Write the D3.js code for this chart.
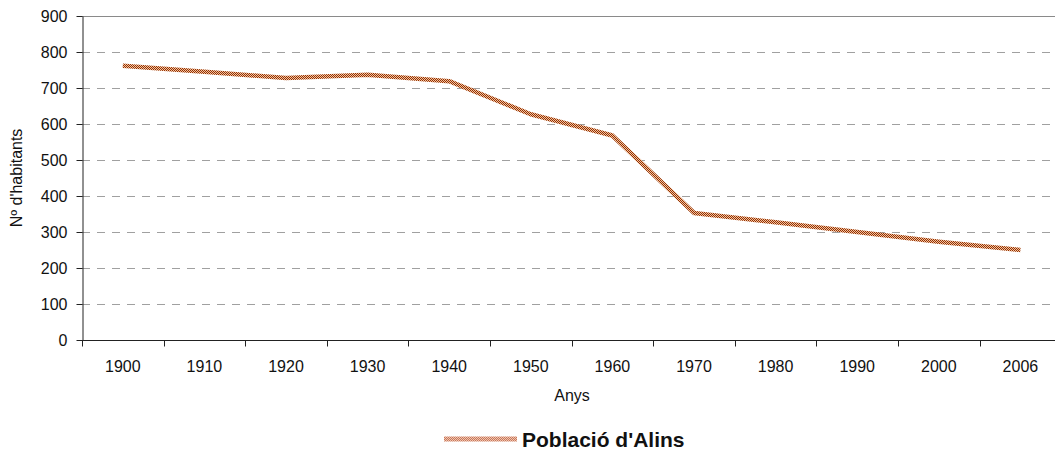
<!doctype html>
<html lang="ca">
<head>
<meta charset="UTF-8" />
<title>Població d'Alins</title>
<script src="https://d3js.org/d3.v7.min.js"></script>
<style>
  html,body{margin:0;padding:0;background:#fff;}
  svg{display:block;font-family:"Liberation Sans",Arial,Helvetica,sans-serif;}
</style>
</head>
<body>
<div id="chart"></div>
<script>
  /* ── data ── */
  const years = ['1900','1910','1920','1930','1940','1950','1960','1970','1980','1990','2000','2006'];
  const population = [762, 745, 728, 737, 719, 627, 568, 353, 327, 300, 273, 250];
  const yTicks = [0,100,200,300,400,500,600,700,800,900];

  const W = 1055, H = 453;
  const plotLeft = 82, plotTop = 16, plotBottom = 340;
  const bandW = 81.6;

  const svg = d3.select('#chart').append('svg')
      .attr('width', W).attr('height', H);

  /* checkered stroke like the original */
  const defs = svg.append('defs');
  function checker(id, dark, light){
    const p = defs.append('pattern').attr('id', id)
        .attr('patternUnits','userSpaceOnUse').attr('width',2).attr('height',2);
    p.append('rect').attr('width',2).attr('height',2).attr('fill',light);
    p.append('rect').attr('width',1).attr('height',1).attr('fill',dark);
    p.append('rect').attr('x',1).attr('y',1).attr('width',1).attr('height',1).attr('fill',dark);
  }
  checker('lineHatch', '#963000', '#f0c4a2');
  checker('legendHatch', '#c9785c', '#efc4ae');

  const x = d3.scaleBand().domain(years).range([plotLeft, plotLeft + bandW*years.length]);
  const y = d3.scaleLinear().domain([0,900]).range([plotBottom, plotTop]);

  /* gridlines */
  svg.append('g').selectAll('line')
     .data(yTicks.filter(d => d > 0 && d < 900))
     .join('line')
     .attr('x1', plotLeft).attr('x2', W)
     .attr('y1', d => Math.round(y(d)) + 0.5).attr('y2', d => Math.round(y(d)) + 0.5)
     .attr('stroke', '#a0a0a0').attr('stroke-width', 1)
     .attr('stroke-dasharray', '8,7');

  /* top border */
  svg.append('line')
     .attr('x1', plotLeft).attr('x2', W)
     .attr('y1', Math.round(y(900)) + 0.5).attr('y2', Math.round(y(900)) + 0.5)
     .attr('stroke', '#8a8a8a');

  /* y axis */
  const gy = svg.append('g')
      .attr('transform', `translate(${plotLeft + 0.5},0)`)
      .call(d3.axisLeft(y).tickValues(yTicks).tickSize(6).tickPadding(9).tickSizeOuter(0));
  gy.select('.domain').attr('stroke', '#222');
  gy.selectAll('.tick line').attr('stroke', '#222');
  gy.selectAll('text').attr('font-size', 16).attr('fill', '#111')
    .attr('font-family', '"Liberation Sans",Arial,sans-serif');

  /* x axis: ticks on category boundaries */
  const gx = svg.append('g').attr('transform', `translate(0,${plotBottom + 0.5})`);
  gx.append('line').attr('x1', plotLeft).attr('x2', W).attr('stroke', '#222');
  const bounds = d3.range(years.length + 1).map(i => plotLeft + i*x.step());
  gx.selectAll('line.tk').data(bounds).join('line').attr('class','tk')
    .attr('x1', d => Math.round(d) + 0.5).attr('x2', d => Math.round(d) + 0.5)
    .attr('y1', 0).attr('y2', 6).attr('stroke', '#222');
  gx.selectAll('text').data(years).join('text')
    .attr('x', d => x(d) + x.bandwidth()/2).attr('y', 31)
    .attr('text-anchor', 'middle').attr('font-size', 16).attr('fill', '#111')
    .text(d => d);

  /* axis titles */
  svg.append('text')
     .attr('x', 572).attr('y', 401).attr('text-anchor', 'middle')
     .attr('font-size', 16).attr('fill', '#111').text('Anys');
  svg.append('text')
     .attr('transform', `translate(22,${(plotTop + plotBottom)/2}) rotate(-90)`)
     .attr('text-anchor', 'middle').attr('font-size', 16).attr('fill', '#111')
     .text("Nº d'habitants");

  /* data line */
  const line = d3.line()
      .x((d,i) => x(years[i]) + x.bandwidth()/2)
      .y(d => y(d));
  svg.append('path').datum(population)
     .attr('d', line)
     .attr('fill', 'none')
     .attr('stroke', 'url(#lineHatch)')
     .attr('stroke-width', 4.5)
     .attr('stroke-linejoin', 'round');

  /* legend */
  const lg = svg.append('g').attr('transform', 'translate(444,439)');
  lg.append('line').attr('x1', 0).attr('x2', 73).attr('y1', 0).attr('y2', 0)
    .attr('stroke', 'url(#legendHatch)').attr('stroke-width', 5);
  lg.append('text').attr('x', 78).attr('y', 8)
    .attr('font-size', 21).attr('font-weight', 'bold').attr('fill', '#111')
    .text("Població d'Alins");
</script>
</body>
</html>
